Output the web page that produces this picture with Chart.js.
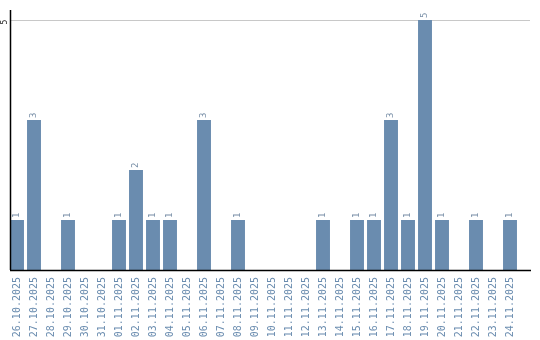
<!DOCTYPE html>
<html>
<head>
<meta charset="utf-8">
<script src="https://cdn.jsdelivr.net/npm/chart.js@4"></script>
<style>
  html, body { margin: 0; padding: 0; background: #fff; }
  #wrap { width: 540px; height: 340px; }
</style>
</head>
<body>
<div id="wrap"><canvas id="countChart"></canvas></div>
<script>
const days = ["26.10.2025", "27.10.2025", "28.10.2025", "29.10.2025", "30.10.2025", "31.10.2025",
  "01.11.2025", "02.11.2025", "03.11.2025", "04.11.2025", "05.11.2025", "06.11.2025",
  "07.11.2025", "08.11.2025", "09.11.2025", "10.11.2025", "11.11.2025", "12.11.2025",
  "13.11.2025", "14.11.2025", "15.11.2025", "16.11.2025", "17.11.2025", "18.11.2025",
  "19.11.2025", "20.11.2025", "21.11.2025", "22.11.2025", "23.11.2025", "24.11.2025"];
const counts = [1, 3, 0, 1, 0, 0, 1, 2, 1, 1, 0, 3, 0, 1, 0, 0, 0, 0, 1, 0, 1, 1, 3, 1, 5, 1, 0, 1, 0, 1];
const yTicks = [5];

const barColor = "#6a8caf";

// axis lines, the single gridline and the rotated texts
const decorations = {
  id: "decorations",
  beforeDatasetsDraw(chart) {
    const ctx = chart.ctx;
    const y = chart.scales.y;
    ctx.save();
    ctx.strokeStyle = "#c8c8c8";
    ctx.lineWidth = 1;
    yTicks.forEach(v => {
      const py = Math.round(y.getPixelForValue(v)) + 0.5;
      ctx.beginPath();
      ctx.moveTo(10, py);
      ctx.lineTo(530, py);
      ctx.stroke();
    });
    ctx.restore();
  },
  afterDatasetsDraw(chart) {
    const ctx = chart.ctx;
    const y = chart.scales.y;
    const area = chart.chartArea;
    ctx.save();
    ctx.strokeStyle = "#000";
    ctx.lineWidth = 1.5;
    ctx.beginPath();
    ctx.moveTo(10.5, area.top);
    ctx.lineTo(10.5, area.bottom);
    ctx.moveTo(10, area.bottom + 0.5);
    ctx.lineTo(531, area.bottom + 0.5);
    ctx.stroke();

    // y tick labels
    ctx.fillStyle = "#222";
    ctx.font = "8px 'DejaVu Sans Mono'";
    ctx.textAlign = "center";
    ctx.textBaseline = "middle";
    yTicks.forEach(v => {
      ctx.save();
      ctx.translate(5, y.getPixelForValue(v) + 2);
      ctx.rotate(-Math.PI / 2);
      ctx.fillText(String(v), 0, 0);
      ctx.restore();
    });

    // value labels on top of the bars
    const meta = chart.getDatasetMeta(0);
    ctx.fillStyle = "#7a90a8";
    ctx.font = "9px 'DejaVu Sans Mono'";
    ctx.textAlign = "left";
    meta.data.forEach((bar, i) => {
      if (!counts[i]) return;
      ctx.save();
      ctx.translate(bar.x, bar.y - 2);
      ctx.rotate(-Math.PI / 2);
      ctx.fillText(String(counts[i]), 0, 0);
      ctx.restore();
    });
    ctx.restore();
  }
};

new Chart(document.getElementById("countChart"), {
  type: "bar",
  data: {
    labels: days,
    datasets: [{
      data: counts,
      backgroundColor: barColor,
      borderWidth: 0,
      barPercentage: 0.82,
      categoryPercentage: 1
    }]
  },
  options: {
    responsive: true,
    maintainAspectRatio: false,
    animation: false,
    layout: { padding: { left: 0, top: 10, right: 21.5, bottom: 0 } },
    plugins: {
      legend: { display: false },
      tooltip: { enabled: false }
    },
    scales: {
      x: {
        grid: { display: false, drawTicks: false },
        border: { display: false },
        ticks: {
          color: barColor,
          font: { family: "'DejaVu Sans Mono'", size: 10 },
          minRotation: 90,
          maxRotation: 90,
          autoSkip: false,
          padding: 7
        },
        afterFit(scale) { scale.height = 70; }
      },
      y: {
        min: 0,
        max: 5.2,
        grid: { display: false, drawTicks: false },
        border: { display: false },
        ticks: { display: false },
        afterFit(scale) { scale.width = 8.5; }
      }
    }
  },
  plugins: [decorations]
});
</script>
</body>
</html>
